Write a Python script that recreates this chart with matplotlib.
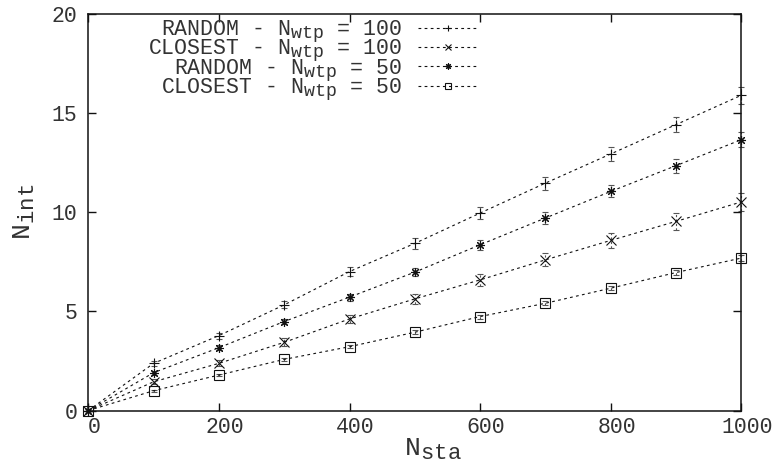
import matplotlib
matplotlib.use('Agg')
import matplotlib._mathtext as mathtext_internals
import matplotlib.pyplot as plt
from matplotlib.transforms import ScaledTranslation

# number of stations
n_sta = [0, 100, 200, 300, 400, 500, 600, 700, 800, 900, 1000]

random_100 = [0, 2.38, 3.78, 5.33, 7.01, 8.43, 9.96, 11.47, 12.94, 14.42, 15.90]
closest_100 = [0, 1.45, 2.38, 3.44, 4.62, 5.63, 6.59, 7.60, 8.58, 9.54, 10.52]
random_50 = [0, 1.91, 3.17, 4.49, 5.72, 6.98, 8.36, 9.71, 11.05, 12.35, 13.66]
closest_50 = [0, 1.00, 1.79, 2.58, 3.22, 3.95, 4.74, 5.41, 6.17, 6.96, 7.69]

random_100_err = [0, 0.12, 0.15, 0.18, 0.22, 0.27, 0.30, 0.33, 0.36, 0.39, 0.42]
closest_100_err = [0, 0.12, 0.15, 0.20, 0.22, 0.27, 0.30, 0.33, 0.37, 0.42, 0.45]
random_50_err = [0, 0.10, 0.12, 0.15, 0.18, 0.20, 0.24, 0.28, 0.30, 0.36, 0.37]
closest_50_err = [0, 0.05, 0.06, 0.07, 0.08, 0.09, 0.10, 0.10, 0.11, 0.12, 0.13]

labels = [
    r'RANDOM - N$_\mathrm{wtp}$ = 100',
    r'CLOSEST - N$_\mathrm{wtp}$ = 100',
    r'RANDOM - N$_\mathrm{wtp}$ = 50',
    r'CLOSEST - N$_\mathrm{wtp}$ = 50',
]
series = [random_100, closest_100, random_50, closest_50]
errors = [random_100_err, closest_100_err, random_50_err, closest_50_err]
markers = ['+', 'x', (8, 2, 0), 's']

# gnuplot-like subscripts are bigger than mathtext's default 0.7
mathtext_internals.SHRINK_FACTOR = 0.85

plt.rcParams['font.family'] = ['Liberation Mono', 'DejaVu Sans Mono']
plt.rcParams['mathtext.fontset'] = 'custom'
plt.rcParams['mathtext.rm'] = 'Liberation Mono'
plt.rcParams['mathtext.it'] = 'Liberation Mono'
plt.rcParams['font.size'] = 15.5

fig = plt.figure(figsize=(7.76, 4.66), dpi=100)
ax = fig.add_axes([0.1138, 0.119, 0.8415, 0.851])

handles = []
for ys, err, mk, lab in zip(series, errors, markers, labels):
    cont = ax.errorbar(
        n_sta, ys, yerr=err, color='#111111', ecolor='#555555',
        linestyle=(0, (2.5, 3)), linewidth=0.8, elinewidth=0.8,
        capsize=2, capthick=0.8, marker=mk, markersize=6.5,
        markerfacecolor='none', markeredgewidth=0.8, clip_on=False, label=lab,
    )
    for bar in cont[2]:
        bar.set_linestyle((0, (2, 2)))
        bar.set_clip_on(False)
    for cap in cont[1]:
        cap.set_clip_on(False)
    handles.append(cont[0])

ax.set_xlim(0, 1000)
ax.set_ylim(0, 20)
ax.set_xticks(range(0, 1001, 200))
ax.set_yticks(range(0, 21, 5))
ax.tick_params(direction='in', top=True, right=True, length=6, width=1, colors='#111111', labelcolor='#333333')
ax.tick_params(axis='y', pad=8)
ax.tick_params(axis='x', pad=5)
offset = ScaledTranslation(6 / 100, 0, fig.dpi_scale_trans)
for lbl in ax.get_xticklabels():
    lbl.set_transform(lbl.get_transform() + offset)
for sp in ax.spines.values():
    sp.set_linewidth(1.1)
    sp.set_color('#111111')

ax.set_xlabel(r'N$_\mathrm{sta}$', color='#333333', fontsize=19)
ax.xaxis.set_label_coords(0.527, -0.066)
ax.set_ylabel(r'N$_\mathrm{int}$', color='#333333', fontsize=19)
ax.yaxis.set_label_coords(-0.078, 0.5)

leg = ax.legend(
    handles, labels, loc='upper right', bbox_to_anchor=(0.597, 0.988),
    frameon=False, markerfirst=False, borderpad=0, borderaxespad=0,
    handlelength=2.8, handletextpad=0.75, labelspacing=-0.33, markerscale=0.7,
)
for t in leg.get_texts():
    t.set_color('#333333')

fig.savefig('out.png', dpi=100)
